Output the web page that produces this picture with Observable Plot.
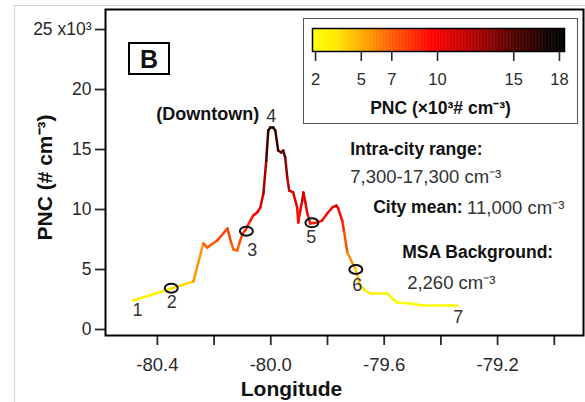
<!DOCTYPE html>
<html>
<head>
<meta charset="utf-8">
<script src="https://cdn.jsdelivr.net/npm/d3@7"></script>
<script src="https://cdn.jsdelivr.net/npm/@observablehq/plot@0.6"></script>
<style>
html, body { margin: 0; padding: 0; background: #fff; }
#wrap { position: relative; width: 585px; height: 402px; overflow: hidden; font-family: "Liberation Sans", Arial, sans-serif; background: #fff; }
#outer { position: absolute; left: 14px; top: 5px; width: 580px; height: 410px; border-left: 1px solid #d4d4d4; border-top: 1px solid #d4d4d4; }
#chart { position: absolute; left: 0; top: 0; }
#legend { position: absolute; left: 303px; top: 18px; width: 273px; height: 104px; border: 1px solid #555; background: #fff; }
#panel { position: absolute; left: 128px; top: 42px; width: 38px; height: 29px; border: 2px solid #000; font-weight: bold; font-size: 25px; line-height: 30px; text-align: center; color: #111; }
</style>
</head>
<body>
<div id="wrap">
  <div id="outer"></div>
  <div id="chart"></div>
  <div id="panel">B</div>
  <div id="legend"></div>
</div>
<script>
// ---- Data: route profile of PNC (×10^3 # cm^-3) vs longitude ----
const lon = [-80.485, -80.351, -80.273, -80.238, -80.224, -80.189, -80.153, -80.139, -80.132, -80.118,
             -80.111, -80.100, -80.090, -80.072, -80.062, -80.048, -80.037, -80.026, -80.016, -80.009,
             -80.002, -79.991, -79.984, -79.974, -79.963, -79.956, -79.949, -79.942, -79.935, -79.921,
             -79.907, -79.903, -79.896, -79.889, -79.885, -79.878, -79.871, -79.861, -79.836, -79.819,
             -79.801, -79.783, -79.769, -79.762, -79.748, -79.741, -79.730, -79.713, -79.702, -79.685,
             -79.667, -79.649, -79.589, -79.572, -79.554, -79.508, -79.463, -79.343];
const pnc = [2.42, 3.42, 4.00, 7.17, 6.83, 7.42, 8.42, 7.17, 6.67, 6.58,
             7.17, 8.00, 8.25, 9.08, 9.50, 9.75, 10.17, 11.33, 14.08, 16.58,
             16.83, 16.83, 16.58, 14.92, 14.75, 14.92, 14.33, 12.67, 11.58, 11.42,
             10.17, 8.92, 9.92, 10.75, 11.42, 10.58, 9.67, 8.83, 8.92, 9.08,
             9.67, 10.17, 10.33, 10.08, 9.08, 8.08, 6.42, 5.58, 5.08, 3.67,
             3.25, 3.00, 3.00, 2.58, 2.25, 2.17, 2.00, 2.00];

// marked sampling sites (open ellipses)
const siteLon = [-80.351, -80.086, -79.855, -79.700];
const sitePnc = [3.44, 8.19, 8.89, 5.00];

// site number labels
const siteLabels = ["1", "2", "3", "4", "5", "6", "7"];
const siteLabelLon = [-80.4705, -80.3493, -80.0652, -79.9982, -79.8573, -79.6952, -79.3392];
const siteLabelPnc = [1.58, 2.29, 6.58, 17.75, 7.67, 3.67, 1.04];

// axes
const yTicks = [0, 5, 10, 15, 20, 25];
const yTickLabels = ["0", "5", "10", "15", "20", "25 x10³"];
const xTicks = [-80.4, -80.2, -80.0, -79.8, -79.6, -79.4, -79.2, -79.0];
const xTickLabels = ["-80.4", "", "-80.0", "", "-79.6", "", "-79.2", ""];

// colour scale
const colorDomain = [2, 3.2, 5.4, 7.2, 9.7, 12.6, 15.2, 18];
const colorRange = ["#ffff00", "#ffec00", "#ffa000", "#ff5500", "#ff0000", "#ad0000", "#4a0000", "#000000"];
const legendTicks = [2, 5, 7, 10, 15, 18];

// annotations
const boldNotes = ["(Downtown)", "Intra-city range:", "City mean:", "MSA Background:"];
const boldNoteLon = [-80.0405, -79.7198, -79.6388, -79.5366];
const boldNotePnc = [17.92, 14.98, 10.15, 6.40];
const boldNoteAnchor = ["end", "start", "start", "start"];
const plainNotes = ["7,300-17,300 cm⁻³", "11,000 cm⁻³", "2,260 cm⁻³"];
const plainNoteLon = [-79.7198, -79.3075, -79.5190];
const plainNotePnc = [12.72, 10.12, 3.90];

// ---- build ----
const FONT = '"Liberation Sans", Arial, sans-serif';
const pts = lon.map((x, i) => ({x, v: pnc[i]}));
const segs = pts.slice(1).map((p, i) => ({x1: pts[i].x, y1: pts[i].v, x2: p.x, y2: p.v, v: (pts[i].v + p.v) / 2}));
const sites = siteLon.map((x, i) => ({x, v: sitePnc[i]}));
const labels = siteLabels.map((t, i) => ({t, x: siteLabelLon[i], v: siteLabelPnc[i]}));
const bolds = boldNotes.map((t, i) => ({t, x: boldNoteLon[i], v: boldNotePnc[i], a: boldNoteAnchor[i]}));
const plains = plainNotes.map((t, i) => ({t, x: plainNoteLon[i], v: plainNotePnc[i]}));

const colorScale = {type: "linear", domain: colorDomain, range: colorRange, clamp: true, interpolate: "rgb"};

const ellipse = {
  draw(ctx) {
    const rx = 6.5, ry = 4.5, k = 0.5523;
    ctx.moveTo(rx, 0);
    ctx.bezierCurveTo(rx, ry * k, rx * k, ry, 0, ry);
    ctx.bezierCurveTo(-rx * k, ry, -rx, ry * k, -rx, 0);
    ctx.bezierCurveTo(-rx, -ry * k, -rx * k, -ry, 0, -ry);
    ctx.bezierCurveTo(rx * k, -ry, rx, -ry * k, rx, 0);
    ctx.closePath();
  }
};

const chart = Plot.plot({
  width: 585,
  height: 402,
  marginLeft: 105,
  marginRight: 2,
  marginTop: 9,
  marginBottom: 67,
  style: {fontFamily: FONT, background: "transparent", overflow: "visible"},
  x: {domain: [-80.583, -78.897]},
  y: {domain: [-0.5, 26.67]},
  color: colorScale,
  marks: [
    Plot.axisY({ticks: yTicks, tickFormat: (d) => yTickLabels[yTicks.indexOf(d)], tickSize: 10, tickPadding: 4,
      fontSize: 17.5, strokeWidth: 1.8, color: "#2a2a2a", label: null}),
    Plot.axisX({ticks: xTicks, tickFormat: (d) => xTickLabels[xTicks.indexOf(d)], tickSize: 10, tickPadding: 12,
      fontSize: 18.5, strokeWidth: 1.8, color: "#2a2a2a", label: null}),
    Plot.frame({stroke: "#000", strokeWidth: 2}),
    Plot.link(segs, {x1: "x1", y1: "y1", x2: "x2", y2: "y2", stroke: "v", strokeWidth: 2.5, strokeLinecap: "round"}),
    Plot.dot(sites, {x: "x", y: "v", symbol: ellipse, stroke: "#111", strokeWidth: 2, fill: "none"}),
    Plot.text(labels, {x: "x", y: "v", text: "t", fontSize: 18, fill: "#333"}),
    Plot.text(bolds, {x: "x", y: "v", text: "t", textAnchor: "start", filter: (d) => d.a === "start", fontSize: 17.5, fontWeight: "bold", fill: "#111"}),
    Plot.text(bolds, {x: "x", y: "v", text: "t", textAnchor: "end", filter: (d) => d.a === "end", fontSize: 18, fontWeight: "bold", fill: "#111"}),
    Plot.text(plains, {x: "x", y: "v", text: "t", textAnchor: "start", fontSize: 18.5, fill: "#333"}),
    Plot.text(["PNC (# cm⁻³)"], {frameAnchor: "left", textAnchor: "middle", lineAnchor: "middle", rotate: -90, dx: -60, dy: 5,
      fontSize: 21, fontWeight: "bold", fill: "#111"}),
    Plot.text(["Longitude"], {frameAnchor: "bottom", textAnchor: "middle", lineAnchor: "middle", dx: -53, dy: 54,
      fontSize: 21, fontWeight: "bold", fill: "#111"})
  ]
});
document.getElementById("chart").appendChild(chart);

// ---- colour bar legend ----
const rampStep = 0.05;
const ramp = d3.range(1.8, 18.33, rampStep);
const legend = Plot.plot({
  width: 273,
  height: 104,
  marginLeft: 8,
  marginRight: 13,
  marginTop: 9,
  marginBottom: 72,
  style: {fontFamily: FONT, background: "transparent", overflow: "visible"},
  x: {domain: [1.8, 18.33]},
  y: {domain: [0, 1], axis: null},
  color: colorScale,
  marks: [
    Plot.rect(ramp, {x1: (d) => d, x2: (d) => Math.min(d + rampStep * 1.6, 18.33), y1: 0, y2: 1, fill: (d) => d + rampStep / 2}),
    Plot.frame({stroke: "#000", strokeWidth: 1.5}),
    Plot.axisX({ticks: legendTicks, tickFormat: (d) => String(d), tickSize: 10, tickPadding: 12, fontSize: 16.5,
      strokeWidth: 1.6, color: "#2a2a2a", label: null}),
    Plot.text(["PNC (×10³# cm⁻³)"], {frameAnchor: "bottom", textAnchor: "middle", lineAnchor: "middle", dx: 2, dy: 56.6,
      fontSize: 17.5, fontWeight: "bold", fill: "#111"})
  ]
});
document.getElementById("legend").appendChild(legend);
</script>
</body>
</html>
